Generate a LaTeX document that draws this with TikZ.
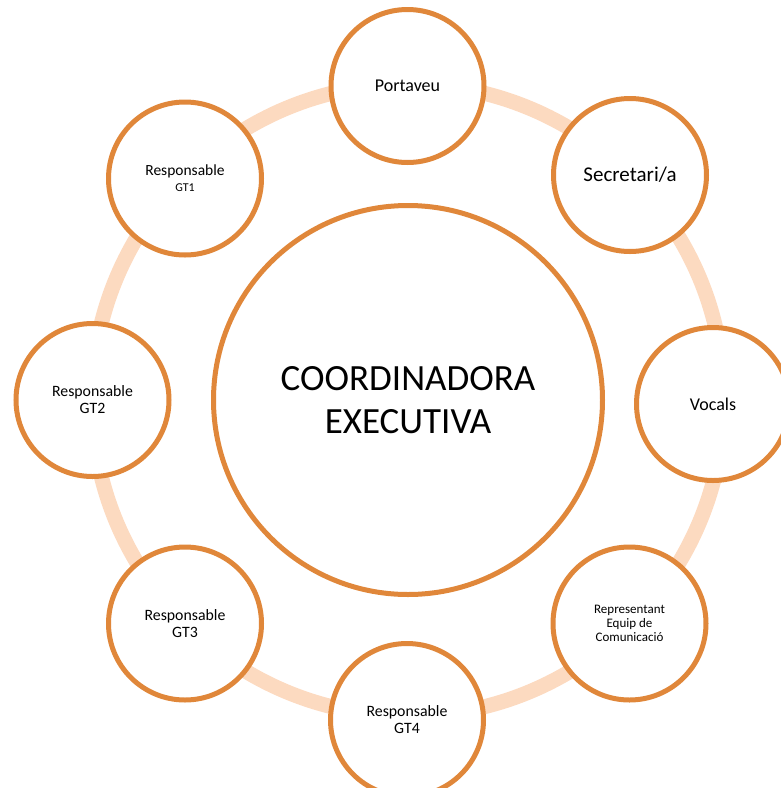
\documentclass[tikz,border=0pt]{standalone}
\usepackage{fontspec}
\setmainfont{Carlito}
\definecolor{orangeline}{RGB}{224,135,58}
\definecolor{ringcol}{RGB}{252,218,192}
\begin{document}
\begin{tikzpicture}[x=1pt,y=-1pt,
  sat/.style={circle,draw=orangeline,line width=5pt,fill=white,minimum size=153pt,inner sep=0pt,align=center,text=black},
  hub/.style={circle,draw=orangeline,line width=5pt,fill=white,minimum size=389pt,inner sep=0pt,align=center,text=black},
  ringline/.style={draw=ringcol,line width=15pt}]
\useasboundingbox (0,0) rectangle (781,788);
\clip (0,0) rectangle (781,788);
\coordinate (o) at (408,400);
\draw[ringline] (o) circle[radius=316];
\node[hub,font=\fontsize{37}{43}\selectfont] (coord) at (408,400) {COORDINADORA\\EXECUTIVA};
\node[sat,font=\fontsize{18}{22}\selectfont] (portaveu) at (407.5,86) {Portaveu};
\node[sat,font=\fontsize{21}{25}\selectfont] (secretaria) at (630,175) {Secretari/a};
\node[sat,font=\fontsize{18}{22}\selectfont] (vocals) at (713,404) {Vocals};
\node[sat,font=\fontsize{13}{14.3}\selectfont] (repr) at (629.5,623.5) {Representant\\Equip de\\Comunicació};
\node[sat,font=\fontsize{15.8}{17}\selectfont] (gt4) at (407,720) {Responsable\\GT4};
\node[sat,font=\fontsize{15.8}{17}\selectfont] (gt3) at (185,623.5) {Responsable\\GT3};
\node[sat,font=\fontsize{15.8}{17}\selectfont] (gt2) at (92.5,400) {Responsable\\GT2};
\node[sat,font=\fontsize{15.5}{16}\selectfont] (gt1) at (185,178.5) {Responsable\\{\fontsize{12}{14}\selectfont GT1}};
\end{tikzpicture}
\end{document}
